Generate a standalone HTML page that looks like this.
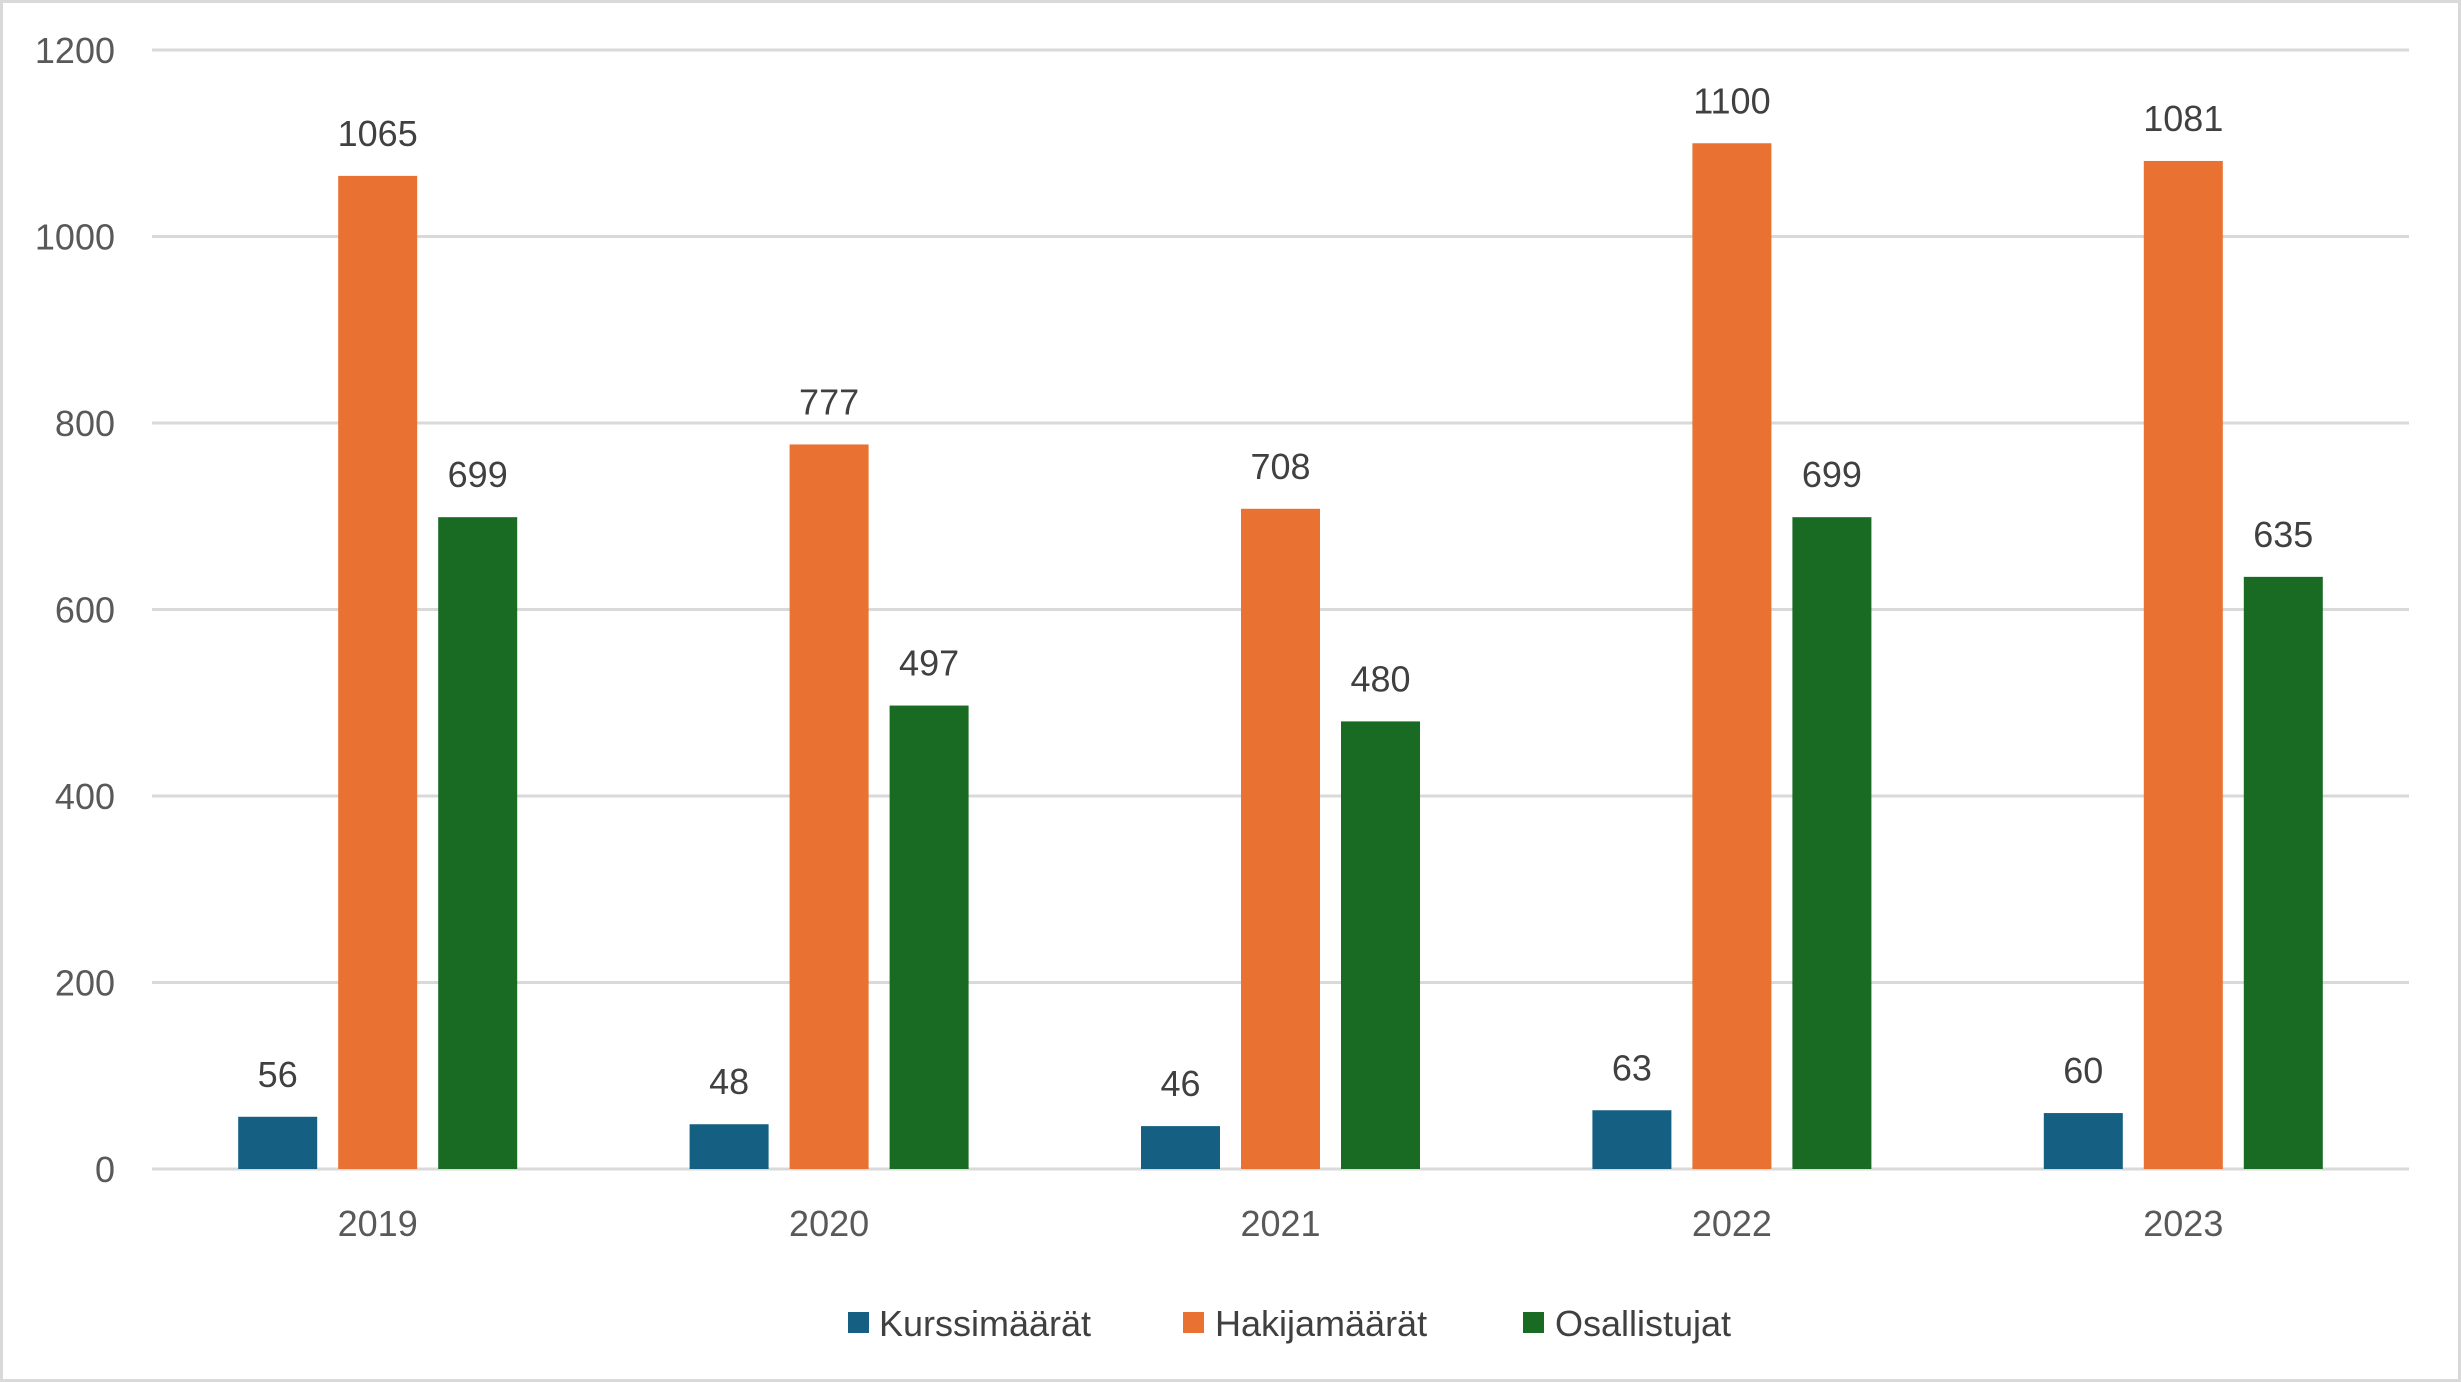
<!DOCTYPE html>
<html><head><meta charset="utf-8"><style>
html,body{margin:0;padding:0;background:#fff;}
svg{display:block;font-family:"Liberation Sans",sans-serif;}
</style></head><body>
<svg id="chart" width="2461" height="1382" viewBox="0 0 2461 1382" xmlns="http://www.w3.org/2000/svg">
<rect x="1.5" y="1.5" width="2458" height="1379" fill="#fff" stroke="#d9d9d9" stroke-width="3"/>
<g id="grid"></g><g id="bars"></g><g id="labels"></g>
<g font-size="36" fill="#404040">
<rect x="848" y="1312" width="21" height="21" fill="#156082"/>
<text x="879" y="1336">Kurssimäärät</text>
<rect x="1183" y="1312" width="21" height="21" fill="#E97132"/>
<text x="1215" y="1336">Hakijamäärät</text>
<rect x="1523" y="1312" width="21" height="21" fill="#196B24"/>
<text x="1555" y="1336">Osallistujat</text>
</g>
</svg>
<script>
const categories = ["2019","2020","2021","2022","2023"];
const kurssimaarat = [56,48,46,63,60];
const hakijamaarat = [1065,777,708,1100,1081];
const osallistujat = [699,497,480,699,635];
const yTicks = [0,200,400,600,800,1000,1200];

const NS="http://www.w3.org/2000/svg";
const left=152,right=2409,y0=1169,yTop=50,yMax=1200;
const yS=v=>y0-(v/yMax)*(y0-yTop);
const cw=(right-left)/categories.length;
const xC=i=>left+cw*(i+0.5);
const bw=79, off=100;
function mk(tag,attrs,parent){const e=document.createElementNS(NS,tag);for(const k in attrs)e.setAttribute(k,attrs[k]);parent.appendChild(e);return e;}
const grid=document.getElementById('grid'),bars=document.getElementById('bars'),labels=document.getElementById('labels');
yTicks.forEach(t=>{
  const l=mk('line',{x1:left,x2:right,y1:yS(t),y2:yS(t),stroke:'#d9d9d9','stroke-width':3},grid);
  
  
  const tx=mk('text',{x:115,y:yS(t)+13,'text-anchor':'end','font-size':36,fill:'#595959'},labels);
  tx.textContent=t;
  
  
});
const series=[[kurssimaarat,'#156082',-off,'kurssimaarat'],[hakijamaarat,'#E97132',0,'hakijamaarat'],[osallistujat,'#196B24',off,'osallistujat']];
categories.forEach((c,i)=>{
  series.forEach(([vals,col,o,nm])=>{
    const v=vals[i];
    const r=mk('rect',{x:xC(i)+o-bw/2,y:yS(v),width:bw,height:y0-yS(v),fill:col},bars);
    
    
    const t=mk('text',{x:xC(i)+o,y:yS(v)-30,'text-anchor':'middle','font-size':36,fill:'#404040'},labels);
    t.textContent=v;
    
    
  });
  const t=mk('text',{x:xC(i),y:1236,'text-anchor':'middle','font-size':36,fill:'#595959'},labels);
  t.textContent=c;
  
  
});
</script>
</body></html>
